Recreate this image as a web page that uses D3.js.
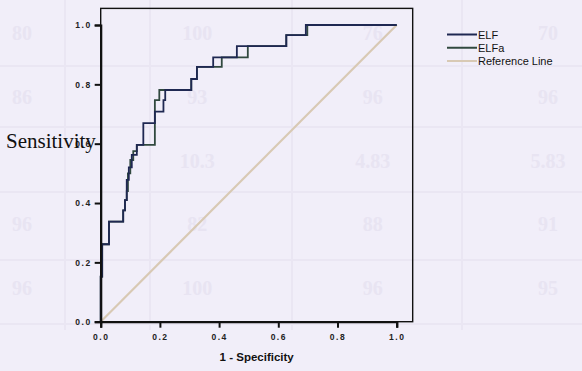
<!DOCTYPE html>
<html>
<head>
<meta charset="utf-8">
<script src="https://cdn.jsdelivr.net/npm/d3@7"></script>
<style>
  html, body { margin: 0; padding: 0; background: #f1eef9; }
  svg { display: block; }
</style>
</head>
<body>
<svg id="chart" width="582" height="371"></svg>
<script>
// ROC curves (x = 1 - specificity, y = sensitivity)
const elfX = [0, 0, 0.005, 0.005, 0.028, 0.028, 0.076, 0.076, 0.082, 0.082, 0.088, 0.088, 0.095, 0.095, 0.105, 0.105, 0.122, 0.122, 0.144, 0.144, 0.183, 0.183, 0.212, 0.212, 0.218, 0.218, 0.306, 0.306, 0.325, 0.325, 0.38, 0.38, 0.46, 0.46, 0.627, 0.627, 0.693, 0.693, 1];
const elfY = [0, 0.152, 0.152, 0.261, 0.261, 0.337, 0.337, 0.375, 0.375, 0.41, 0.41, 0.478, 0.478, 0.52, 0.52, 0.562, 0.562, 0.596, 0.596, 0.669, 0.669, 0.708, 0.708, 0.747, 0.747, 0.781, 0.781, 0.818, 0.818, 0.859, 0.859, 0.891, 0.891, 0.929, 0.929, 0.966, 0.966, 1, 1];

const elfaX = [0, 0, 0.005, 0.005, 0.028, 0.028, 0.076, 0.076, 0.082, 0.082, 0.088, 0.088, 0.092, 0.092, 0.1, 0.1, 0.11, 0.11, 0.122, 0.122, 0.183, 0.183, 0.198, 0.198, 0.306, 0.306, 0.325, 0.325, 0.409, 0.409, 0.497, 0.497, 0.627, 0.627, 0.698, 0.698, 1];
const elfaY = [0, 0.152, 0.152, 0.261, 0.261, 0.337, 0.337, 0.375, 0.375, 0.41, 0.41, 0.44, 0.44, 0.5, 0.5, 0.545, 0.545, 0.575, 0.575, 0.596, 0.596, 0.747, 0.747, 0.781, 0.781, 0.818, 0.818, 0.859, 0.859, 0.891, 0.891, 0.929, 0.929, 0.966, 0.966, 1, 1];

const refX = [0, 1];
const refY = [0, 1];

const tickValues = [0, 0.2, 0.4, 0.6, 0.8, 1.0];
const seriesNames = ["ELF", "ELFa", "Reference Line"];
const seriesColors = ["#1f2852", "#31493f", "#d8c9b4"];

// faint show-through of a table printed on the other side of the page
const ghostRows = [
  ["80", "100", "76", "70"],
  ["86", "93", "96", "96"],
  ["", "10.3", "4.83", "5.83"],
  ["96", "82", "88", "91"],
  ["96", "100", "96", "95"]
];
const ghostColLines = [65, 150, 292, 462];
const ghostRowLines = [66, 127, 192, 260, 324];

const svg = d3.select("#chart");

// ghost table
const ghostColX = d3.scalePoint().domain(d3.range(4)).range([22, 548]);
const ghostRowY = d3.scalePoint().domain(d3.range(5)).range([40, 295]);
const ghost = svg.append("g").attr("fill", "#e8e4f2").attr("stroke", "#eae6f3");
ghostColLines.forEach(gx => ghost.append("line")
  .attr("x1", gx).attr("x2", gx).attr("y1", 0).attr("y2", 330).attr("stroke-width", 2));
ghostRowLines.forEach(gy => ghost.append("line")
  .attr("x1", 0).attr("x2", 582).attr("y1", gy).attr("y2", gy).attr("stroke-width", 2));
ghostRows.forEach((row, ri) => row.forEach((txt, ci) => {
  ghost.append("text")
    .attr("x", ghostColX(ci)).attr("y", ghostRowY(ri))
    .attr("text-anchor", "middle")
    .attr("stroke", "none")
    .style("font", "bold 20px 'Liberation Serif'")
    .text(txt);
}));

const x = d3.scaleLinear().domain([0, 1]).range([100.7, 396.7]);
const y = d3.scaleLinear().domain([0, 1]).range([321.7, 25]);

// plot frame
svg.append("rect")
  .attr("x", x(0)).attr("y", y(1.056))
  .attr("width", x(1.054) - x(0)).attr("height", y(0) - y(1.056))
  .attr("fill", "none").attr("stroke", "#111").attr("stroke-width", 1.4);

const line = d3.line().x(d => x(d[0])).y(d => y(d[1]));

svg.append("path")
  .datum(d3.zip(refX, refY))
  .attr("d", line)
  .attr("fill", "none").attr("stroke", seriesColors[2]).attr("stroke-width", 2.2);

svg.append("path")
  .datum(d3.zip(elfaX, elfaY))
  .attr("d", line)
  .attr("fill", "none").attr("stroke", seriesColors[1]).attr("stroke-width", 1.8);

svg.append("path")
  .datum(d3.zip(elfX, elfY))
  .attr("d", line)
  .attr("fill", "none").attr("stroke", seriesColors[0]).attr("stroke-width", 1.8);

// axes
const fmt = d3.format(".1f");
const yAxis = svg.append("g")
  .attr("transform", `translate(${x(0)},0)`)
  .call(d3.axisLeft(y).tickValues(tickValues).tickFormat(fmt).tickSize(6).tickPadding(3));
const xAxis = svg.append("g")
  .attr("transform", `translate(0,${y(0)})`)
  .call(d3.axisBottom(x).tickValues(tickValues).tickFormat(fmt).tickSize(6).tickPadding(6));
[xAxis, yAxis].forEach(g => {
  g.select(".domain").attr("stroke", "#111").attr("stroke-width", 2.2);
  g.selectAll(".tick line").attr("stroke", "#111").attr("stroke-width", 2);
  g.selectAll(".tick text")
    .attr("fill", "#222")
    .style("font", "bold 8.5px 'Liberation Sans'")
    .style("letter-spacing", "1.5px");
});

// axis titles
svg.append("text")
  .attr("x", (x(0) + x(1.054)) / 2).attr("y", 361)
  .attr("text-anchor", "middle")
  .attr("fill", "#111")
  .style("font", "bold 11.5px 'Liberation Sans'")
  .text("1 - Specificity");

svg.append("text")
  .attr("x", 6).attr("y", 148)
  .attr("fill", "#111")
  .style("font", "21px 'Liberation Serif'")
  .text("Sensitivity");

// legend
const legendY = d3.scalePoint().domain(seriesNames).range([34.5, 61]);
const legend = svg.append("g");
seriesNames.forEach((name, i) => {
  legend.append("line")
    .attr("x1", 447).attr("x2", 477)
    .attr("y1", legendY(name)).attr("y2", legendY(name))
    .attr("stroke", seriesColors[i]).attr("stroke-width", 2);
  legend.append("text")
    .attr("x", 478).attr("y", legendY(name) + 4)
    .attr("fill", "#111")
    .style("font", "11px 'Liberation Sans'")
    .text(name);
});
</script>
</body>
</html>
